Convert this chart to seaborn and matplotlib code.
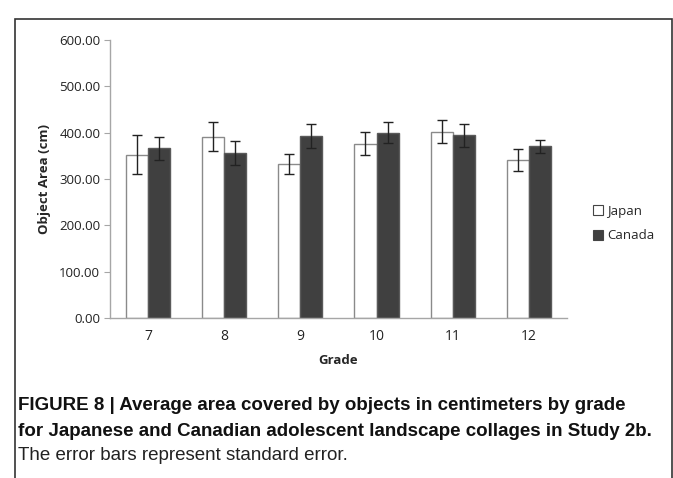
import numpy as np
import pandas as pd
import matplotlib
matplotlib.use("Agg")
import matplotlib.pyplot as plt
import seaborn as sns
from matplotlib.patches import Rectangle

grades = ["7", "8", "9", "10", "11", "12"]
japan_mean = [352, 391, 332, 376, 402, 341]
japan_se = [42, 31, 21, 25, 25, 23]
canada_mean = [366, 356, 392, 400, 394, 371]
canada_se = [25, 26, 26, 22, 24, 14]

df = pd.DataFrame({
    "Grade": grades * 2,
    "Country": ["Japan"] * 6 + ["Canada"] * 6,
    "Area": japan_mean + canada_mean,
    "SE": japan_se + canada_se,
})

sns.set_style("white")
plt.rcParams["font.family"] = ["Open Sans", "DejaVu Sans"]

fig = plt.figure(figsize=(6.73, 4.78), dpi=100)
ax = fig.add_axes([0.1634, 0.3347, 0.679, 0.5816])

sns.barplot(data=df, x="Grade", y="Area", hue="Country", order=grades,
            hue_order=["Japan", "Canada"], palette=["white", "#404040"],
            width=0.58, errorbar=None, ax=ax, legend=True)

# outline + error bars using bar positions from seaborn
edge = {"Japan": "#8a8a8a", "Canada": "#5a5a5a"}
for cont, country in zip(ax.containers, ["Japan", "Canada"]):
    sub = df[df["Country"] == country].set_index("Grade").loc[grades]
    xs = []
    for bar in cont:
        bar.set_edgecolor(edge[country])
        bar.set_linewidth(1.0)
        xs.append(bar.get_x() + bar.get_width() / 2)
    ax.errorbar(xs, sub["Area"], yerr=sub["SE"], fmt="none",
                ecolor="#222222", elinewidth=1.0, capsize=3.5, capthick=1.0)

ax.set_ylim(0, 600)
ax.set_yticks(np.arange(0, 601, 100))
ax.set_yticklabels([f"{v:.2f}" for v in np.arange(0, 601, 100)])
ax.set_xlim(-0.5, 5.5)
for s in ["top", "right"]:
    ax.spines[s].set_visible(False)
for s in ["left", "bottom"]:
    ax.spines[s].set_color("#a6a6a6")
    ax.spines[s].set_linewidth(1.0)
ax.tick_params(axis="y", length=4, width=0.8, color="#a6a6a6", labelsize=9.5,
               labelcolor="#222222", left=True, pad=3)
ax.tick_params(axis="x", length=0, labelsize=10, labelcolor="#222222", pad=8)
ax.set_xlabel("Grade", fontsize=9.5, fontweight="bold", labelpad=7)
ax.set_ylabel("Object Area (cm)", fontsize=9.5, fontweight="bold", labelpad=6)

leg = ax.legend(loc="center left", bbox_to_anchor=(1.03, 0.34), frameon=False,
                fontsize=9.5, handlelength=0.8, handleheight=0.8,
                handletextpad=0.3, labelspacing=0.9)
for h in leg.legend_handles:
    h.set_edgecolor("#444444")
    h.set_linewidth(0.8)

# surrounding frame
fig.patches.append(Rectangle((14.5 / 673, -0.05), (671.5 - 14.5) / 673, 1 - 19.5 / 478 + 0.05,
                             transform=fig.transFigure, fill=False,
                             edgecolor="#333333", linewidth=1.2))

cap_font = ["Liberation Sans Narrow", "Liberation Sans", "DejaVu Sans"]
fig.text(18 / 673, 1 - 405 / 478, "FIGURE 8 | Average area covered by objects in centimeters by grade",
         fontsize=13.5, fontweight="bold", family=cap_font, va="center", ha="left", color="#111111")
fig.text(18 / 673, 1 - 432 / 478, "for Japanese and Canadian adolescent landscape collages in Study 2b.",
         fontsize=13.5, fontweight="bold", family=cap_font, va="center", ha="left", color="#111111")
fig.text(18 / 673, 1 - 456 / 478, "The error bars represent standard error.",
         fontsize=13.5, family=cap_font, va="center", ha="left", color="#222222")

fig.savefig("out.png", dpi=100)
